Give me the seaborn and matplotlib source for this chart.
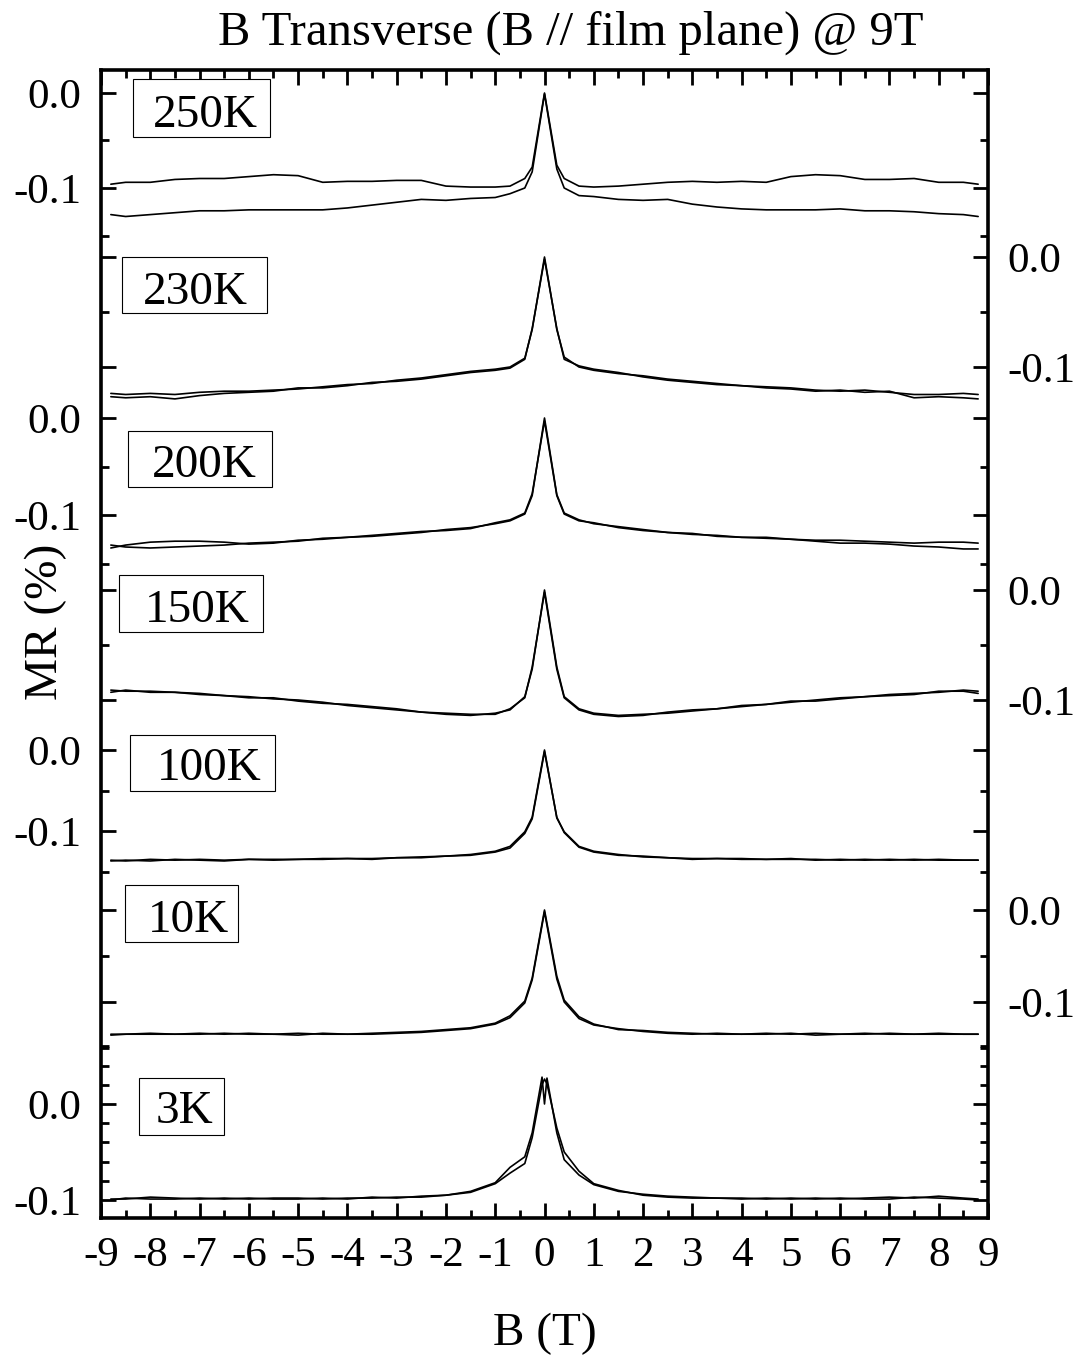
import matplotlib
matplotlib.use("Agg")
import matplotlib.pyplot as plt
import seaborn as sns
from matplotlib.ticker import MultipleLocator, FuncFormatter
from matplotlib.patches import Rectangle

# field grid (T), shared by most sweeps
B = [-8.8, -8.5, -8.0, -7.5, -7.0, -6.5, -6.0, -5.5, -5.0, -4.5, -4.0, -3.5, -3.0, -2.5,
     -2.0, -1.5, -1.0, -0.7, -0.4, -0.25, 0.0, 0.25, 0.4, 0.7, 1.0, 1.5, 2.0, 2.5,
     3.0, 3.5, 4.0, 4.5, 5.0, 5.5, 6.0, 6.5, 7.0, 7.5, 8.0, 8.5, 8.8]
# 3K has a split peak, so a couple of extra points near zero
B_3K = [-8.8, -8.5, -8.0, -7.5, -7.0, -6.5, -6.0, -5.5, -5.0, -4.5, -4.0, -3.5, -3.0, -2.5,
        -2.0, -1.5, -1.0, -0.7, -0.4, -0.25, -0.05, 0.0, 0.05, 0.25, 0.4, 0.7, 1.0, 1.5,
        2.0, 2.5, 3.0, 3.5, 4.0, 4.5, 5.0, 5.5, 6.0, 6.5, 7.0, 7.5, 8.0, 8.5, 8.8]

# MR (%) for the two field sweeps at each temperature
mr_250K_a = [-0.096, -0.094, -0.094, -0.091, -0.090, -0.090, -0.088, -0.086, -0.087, -0.094,
             -0.093, -0.093, -0.092, -0.092, -0.098, -0.099, -0.099, -0.098, -0.090, -0.078,
             0.000, -0.076, -0.090, -0.098, -0.099, -0.098, -0.096, -0.094, -0.093, -0.094,
             -0.093, -0.094, -0.088, -0.086, -0.087, -0.091, -0.091, -0.090, -0.094, -0.094, -0.096]
mr_250K_b = [-0.128, -0.130, -0.128, -0.126, -0.124, -0.124, -0.123, -0.123, -0.123, -0.123,
             -0.121, -0.118, -0.115, -0.112, -0.113, -0.111, -0.110, -0.106, -0.100, -0.083,
             -0.001, -0.080, -0.100, -0.108, -0.109, -0.112, -0.113, -0.112, -0.117, -0.120,
             -0.122, -0.123, -0.123, -0.123, -0.122, -0.124, -0.124, -0.125, -0.127, -0.128, -0.130]

mr_230K_a = [-0.124, -0.125, -0.124, -0.125, -0.123, -0.122, -0.122, -0.121, -0.120, -0.118,
             -0.116, -0.115, -0.112, -0.110, -0.107, -0.104, -0.102, -0.100, -0.092, -0.066,
             0.000, -0.066, -0.091, -0.100, -0.103, -0.106, -0.108, -0.111, -0.113, -0.115,
             -0.117, -0.118, -0.119, -0.121, -0.122, -0.121, -0.123, -0.125, -0.125, -0.124, -0.125]
mr_230K_b = [-0.127, -0.128, -0.127, -0.129, -0.126, -0.124, -0.123, -0.122, -0.119, -0.119,
             -0.117, -0.114, -0.113, -0.111, -0.108, -0.105, -0.103, -0.101, -0.093, -0.065,
             -0.002, -0.065, -0.093, -0.099, -0.102, -0.105, -0.109, -0.112, -0.114, -0.116,
             -0.117, -0.119, -0.120, -0.122, -0.121, -0.123, -0.122, -0.128, -0.127, -0.128, -0.129]

mr_200K_a = [-0.134, -0.131, -0.128, -0.127, -0.127, -0.128, -0.130, -0.129, -0.126, -0.125,
             -0.123, -0.122, -0.120, -0.118, -0.115, -0.113, -0.109, -0.106, -0.099, -0.080,
             0.000, -0.079, -0.098, -0.105, -0.109, -0.112, -0.115, -0.118, -0.120, -0.121,
             -0.123, -0.124, -0.125, -0.127, -0.129, -0.129, -0.130, -0.132, -0.133, -0.135, -0.135]
mr_200K_b = [-0.131, -0.133, -0.134, -0.133, -0.132, -0.131, -0.129, -0.128, -0.127, -0.124,
             -0.123, -0.121, -0.119, -0.117, -0.116, -0.114, -0.108, -0.105, -0.098, -0.078,
             -0.003, -0.080, -0.099, -0.106, -0.108, -0.113, -0.116, -0.118, -0.119, -0.122,
             -0.123, -0.123, -0.125, -0.126, -0.126, -0.127, -0.128, -0.129, -0.128, -0.128, -0.129]

mr_150K_a = [-0.091, -0.092, -0.092, -0.093, -0.094, -0.096, -0.097, -0.099, -0.100, -0.102,
             -0.105, -0.107, -0.109, -0.111, -0.113, -0.114, -0.112, -0.109, -0.097, -0.072,
             0.000, -0.070, -0.097, -0.108, -0.112, -0.114, -0.113, -0.112, -0.110, -0.108,
             -0.106, -0.104, -0.102, -0.100, -0.098, -0.097, -0.095, -0.094, -0.093, -0.091, -0.092]
mr_150K_b = [-0.093, -0.091, -0.093, -0.093, -0.095, -0.096, -0.098, -0.098, -0.101, -0.103,
             -0.104, -0.106, -0.108, -0.111, -0.112, -0.113, -0.113, -0.108, -0.098, -0.070,
             -0.002, -0.072, -0.098, -0.109, -0.113, -0.115, -0.114, -0.111, -0.109, -0.108,
             -0.105, -0.104, -0.101, -0.101, -0.099, -0.097, -0.096, -0.095, -0.092, -0.092, -0.094]

mr_100K_a = [-0.136, -0.137, -0.135, -0.136, -0.135, -0.136, -0.135, -0.135, -0.135, -0.134,
             -0.134, -0.134, -0.133, -0.132, -0.131, -0.129, -0.125, -0.119, -0.101, -0.083,
             0.000, -0.084, -0.101, -0.119, -0.125, -0.129, -0.132, -0.133, -0.134, -0.134,
             -0.134, -0.135, -0.135, -0.135, -0.136, -0.135, -0.136, -0.135, -0.136, -0.136, -0.136]
mr_100K_b = [-0.137, -0.136, -0.137, -0.135, -0.136, -0.137, -0.135, -0.136, -0.135, -0.135,
             -0.134, -0.135, -0.133, -0.133, -0.131, -0.130, -0.126, -0.121, -0.103, -0.085,
             -0.002, -0.083, -0.102, -0.120, -0.126, -0.130, -0.131, -0.133, -0.135, -0.134,
             -0.135, -0.135, -0.134, -0.136, -0.135, -0.136, -0.135, -0.136, -0.135, -0.136, -0.136]

mr_10K_a = [-0.135, -0.135, -0.134, -0.135, -0.134, -0.135, -0.134, -0.135, -0.134, -0.135,
            -0.135, -0.134, -0.133, -0.132, -0.130, -0.128, -0.123, -0.115, -0.099, -0.074,
            0.000, -0.072, -0.098, -0.116, -0.124, -0.130, -0.131, -0.133, -0.134, -0.135,
            -0.135, -0.134, -0.135, -0.134, -0.135, -0.134, -0.135, -0.135, -0.134, -0.135, -0.135]
mr_10K_b = [-0.136, -0.135, -0.135, -0.135, -0.135, -0.134, -0.135, -0.135, -0.136, -0.134,
            -0.135, -0.135, -0.134, -0.133, -0.131, -0.129, -0.124, -0.117, -0.101, -0.076,
            -0.002, -0.075, -0.100, -0.118, -0.125, -0.129, -0.132, -0.134, -0.135, -0.134,
            -0.135, -0.135, -0.134, -0.136, -0.135, -0.135, -0.134, -0.135, -0.135, -0.135, -0.135]

mr_3K_a = [-0.099, -0.099, -0.097, -0.098, -0.099, -0.098, -0.099, -0.098, -0.098, -0.099,
           -0.098, -0.098, -0.097, -0.097, -0.095, -0.091, -0.082, -0.066, -0.055, -0.030,
           0.028, 0.000, 0.027, -0.030, -0.058, -0.074, -0.084, -0.091, -0.094, -0.096,
           -0.097, -0.098, -0.099, -0.098, -0.099, -0.098, -0.099, -0.098, -0.097, -0.098,
           -0.096, -0.098, -0.099]
mr_3K_b = [-0.100, -0.098, -0.099, -0.099, -0.098, -0.099, -0.098, -0.099, -0.099, -0.098,
           -0.099, -0.097, -0.098, -0.096, -0.095, -0.092, -0.083, -0.072, -0.062, -0.035,
           0.020, 0.026, 0.021, -0.025, -0.050, -0.070, -0.083, -0.090, -0.095, -0.097,
           -0.098, -0.098, -0.098, -0.099, -0.098, -0.099, -0.098, -0.099, -0.099, -0.097,
           -0.098, -0.099, -0.100]

# layout in pixels of the 1081x1358 canvas
W, H = 1081, 1358
FRAME_L, FRAME_T, FRAME_R, FRAME_B = 101, 70, 988, 1218

# label, x, sweeps, px of 0.0, px per 0.1, ymin, ymax, label side, minor step
panels = [
    ("250K", B, [mr_250K_a, mr_250K_b], 93, 95, -0.16, 0.024, "left", 0.05),
    ("230K", B, [mr_230K_a, mr_230K_b], 257, 110, -0.145, 0.005, "right", 0.05),
    ("200K", B, [mr_200K_a, mr_200K_b], 418, 97, -0.16, 0.005, "left", 0.05),
    ("150K", B, [mr_150K_a, mr_150K_b], 590, 110, -0.14, 0.005, "right", 0.05),
    ("100K", B, [mr_100K_a, mr_100K_b], 750, 81, -0.16, 0.005, "left", 0.05),
    ("10K", B, [mr_10K_a, mr_10K_b], 910, 92, -0.16, 0.005, "right", 0.05),
    ("3K", B_3K, [mr_3K_a, mr_3K_b], 1104, 96, -0.119, 0.065, "left", 0.02),
]

# label boxes: left, top, right, bottom, text centre x, text baseline
boxes = {
    "250K": (133, 79, 270, 137, 205, 127),
    "230K": (122, 257, 267, 313, 195, 304),
    "200K": (128, 431, 272, 487, 204, 477),
    "150K": (119, 575, 263, 632, 197, 622),
    "100K": (130, 735, 275, 791, 209, 780),
    "10K": (125, 885, 238, 942, 188, 932),
    "3K": (139, 1078, 224, 1135, 184, 1123),
}


def fx(px):
    return px / W


def fy(py):
    return 1 - py / H


def ylabel_fmt(v, pos):
    s = f"{v:.1f}"
    return "0.0" if s == "-0.0" else s


sns.set_style("white")
plt.rcParams['font.family'] = ['Liberation Serif', 'DejaVu Serif']
plt.rcParams['axes.unicode_minus'] = False
plt.rcParams['text.color'] = 'black'
plt.rcParams['xtick.color'] = 'black'
plt.rcParams['ytick.color'] = 'black'
plt.rcParams['xtick.labelcolor'] = 'black'
plt.rcParams['ytick.labelcolor'] = 'black'

fig = plt.figure(figsize=(W / 100, H / 100), dpi=100)

# outer frame carries the field axis
frame = fig.add_axes([fx(FRAME_L), fy(FRAME_B), fx(FRAME_R) - fx(FRAME_L), fy(FRAME_T) - fy(FRAME_B)])
frame.set_xlim(-9, 9)
frame.set_ylim(0, 1)
frame.set_yticks([])
frame.xaxis.set_major_locator(MultipleLocator(1))
frame.xaxis.set_minor_locator(MultipleLocator(0.5))
frame.xaxis.set_major_formatter(FuncFormatter(lambda v, p: f"{int(round(v))}"))
frame.tick_params(axis='x', which='both', direction='in', top=True, bottom=True,
                  width=2, color='black', labelsize=31, labelcolor='black', pad=13)
frame.tick_params(axis='x', which='major', length=10.5)
frame.tick_params(axis='x', which='minor', length=5.5)
for sp in frame.spines.values():
    sp.set_linewidth(2.6)
    sp.set_color('black')

# one transparent layer per temperature, ticks land on the frame edges
for label, x, sweeps, zero, scale, ymin, ymax, side, minor in panels:
    top = zero - ymax * 10 * scale
    bottom = zero - ymin * 10 * scale
    ax = fig.add_axes([fx(FRAME_L), fy(bottom), fx(FRAME_R) - fx(FRAME_L), (bottom - top) / H])
    ax.patch.set_alpha(0)
    for sp in ax.spines.values():
        sp.set_visible(False)
    for y in sweeps:
        sns.lineplot(x=x, y=y, ax=ax, color='black', lw=1.2, sort=False, estimator=None)
    ax.set_xlim(-9, 9)
    ax.set_ylim(ymin, ymax)
    ax.set_xticks([])
    ax.set_xlabel('')
    ax.set_ylabel('')
    ax.yaxis.set_major_locator(MultipleLocator(0.1))
    ax.yaxis.set_minor_locator(MultipleLocator(minor))
    ax.yaxis.set_major_formatter(FuncFormatter(ylabel_fmt))
    ax.tick_params(axis='y', which='both', direction='in', left=True, right=True,
                   labelleft=(side == 'left'), labelright=(side == 'right'),
                   width=2, color='black', labelsize=31, labelcolor='black', pad=14)
    ax.tick_params(axis='y', which='major', length=10.5)
    ax.tick_params(axis='y', which='minor', length=5.5)

    x0, t0, x1, b0, tx, tb = boxes[label]
    fig.add_artist(Rectangle((fx(x0), fy(b0)), fx(x1) - fx(x0), fy(t0) - fy(b0),
                             transform=fig.transFigure, fc='white', ec='black', lw=0.8))
    fig.text(fx(tx), fy(tb), label, ha='center', va='baseline', fontsize=34, color='black')

fig.text(fx(571), fy(45), "B Transverse (B // film plane) @ 9T", ha='center', va='baseline',
         fontsize=35, color='black')
fig.text(fx(545), fy(1345), "B (T)", ha='center', va='baseline', fontsize=34, color='black')
fig.text(fx(46), fy(622), "MR (%)", ha='center', va='center', rotation=90, fontsize=34, color='black')

fig.savefig("out.png", dpi=100)
